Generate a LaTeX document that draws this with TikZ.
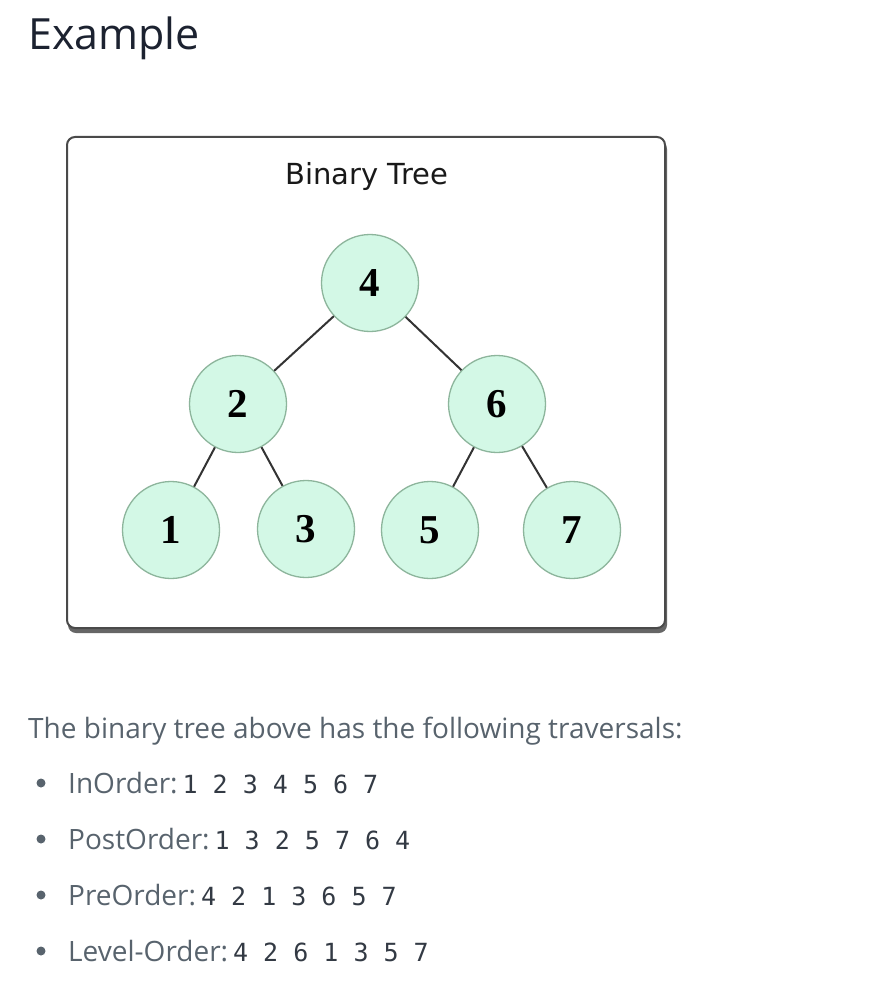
\documentclass[tikz,border=0pt]{standalone}
\usepackage{fontspec}
\setmainfont{Open Sans}
\newfontfamily\boxfont{DejaVu Sans}
\newfontfamily\keyfont{Liberation Serif}
\newfontfamily\codefont{DejaVu Sans Mono}
\definecolor{headink}{HTML}{1C2230}
\definecolor{bodyink}{HTML}{58636D}
\definecolor{codeink}{HTML}{333A44}
\definecolor{mint}{HTML}{D3F8E6}
\definecolor{mintline}{HTML}{8DB59C}
\definecolor{frameline}{HTML}{4A4A4A}
\begin{document}
\begin{tikzpicture}[x=1pt, y=-1pt,
    treenode/.style={circle, draw=mintline, line width=1.3pt, fill=mint,
        minimum size=97pt, inner sep=0pt,
        font=\keyfont\bfseries\fontsize{41}{41}\selectfont},
    treeedge/.style={draw=black!80, line width=2pt},
    listline/.style={anchor=base west, inner sep=0pt, text=bodyink,
        font=\fontsize{28}{34}\selectfont},
    listkeys/.style={font=\codefont\fontsize{25}{30}\selectfont},
    bullet/.style={circle, fill=bodyink, inner sep=0pt, minimum size=9pt}]
    \useasboundingbox (0,0) rectangle (874,984);
    \node[anchor=base west, inner sep=0pt, text=headink,
        font=\fontsize{43}{50}\selectfont] (heading) at (28,50) {Example};
    % frame with its shadow
    \fill[black!60, rounded corners=8pt] (68,141) rectangle (667,633);
    \draw[frameline, line width=2pt, fill=white, rounded corners=8pt] (67,137) rectangle (665,628);
    \node[anchor=base, inner sep=0pt, text=black!90, font=\boxfont\fontsize{29}{34}\selectfont] (caption) at (367,185) {Binary Tree};
    % the tree
    \node[treenode] (n4) at (370,283) {4};
    \node[treenode] (n2) at (238,404) {2};
    \node[treenode] (n6) at (497,404) {6};
    \node[treenode] (n1) at (171,530) {1};
    \node[treenode] (n3) at (306,529) {3};
    \node[treenode] (n5) at (430,530) {5};
    \node[treenode] (n7) at (572,530) {7};
    \draw[treeedge] (n4) -- (n2);
    \draw[treeedge] (n4) -- (n6);
    \draw[treeedge] (n2) -- (n1);
    \draw[treeedge] (n2) -- (n3);
    \draw[treeedge] (n6) -- (n5);
    \draw[treeedge] (n6) -- (n7);
    % traversals
    \node[listline] (intro) at (28,738) {The binary tree above has the following traversals:};
    \node[bullet] (b1) at (41,783) {};
    \node[bullet] (b2) at (41,839) {};
    \node[bullet] (b3) at (41,895) {};
    \node[bullet] (b4) at (41,951) {};
    \node[listline] (inorder) at (68,793) {InOrder:\hspace{5pt}{\codefont\color{codeink}\fontsize{25}{30}\selectfont 1 2 3 4 5 6 7}};
    \node[listline] (postorder) at (68,849) {PostOrder:\hspace{5pt}{\codefont\color{codeink}\fontsize{25}{30}\selectfont 1 3 2 5 7 6 4}};
    \node[listline] (preorder) at (68,905) {PreOrder:\hspace{5pt}{\codefont\color{codeink}\fontsize{25}{30}\selectfont 4 2 1 3 6 5 7}};
    \node[listline] (levelorder) at (68,961) {Level-Order:\hspace{5pt}{\codefont\color{codeink}\fontsize{25}{30}\selectfont 4 2 6 1 3 5 7}};
\end{tikzpicture}
\end{document}
